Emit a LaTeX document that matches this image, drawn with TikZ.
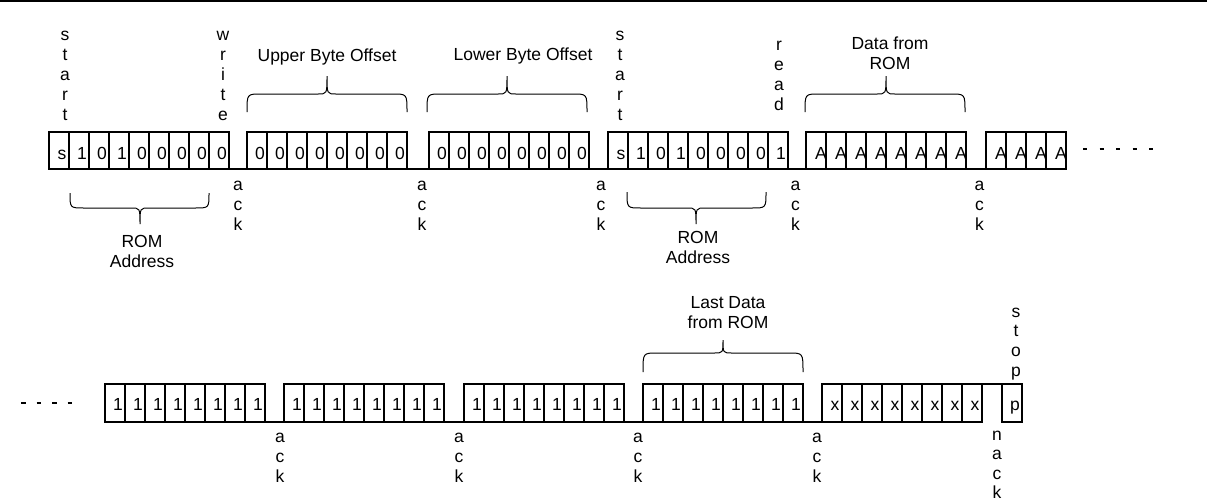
\documentclass[tikz,border=0pt]{standalone}
\usepackage{fontspec}
\setmainfont{Liberation Sans}
\newcommand{\cellgroup}[7][13]{% [text offset] name, x0, ytop, text baseline, height, list
  \foreach \ct [count=\ci from 0] in {#7} {
    \node[anchor=base] (#2t\ci) at ({#3+20*\ci+#1},#5) {\ct};
    \node[cell, minimum height=#6pt] (#2c\ci) at ({#3+20*\ci},#4) {};
  }}
\newcommand{\vlabel}[5]{% name, x, first baseline, step, letters
  \foreach \cl [count=\ci from 0] in {#5}
    \node[anchor=base] (#1\ci) at (#2,{#3+#4*\ci}) {\cl};}
\newcommand{\bracedraw}[6]{% x1, x2, xm, yEnd, yMid, yTip
  \draw[bracestyle] (#1,#4) .. controls (#1,#5) .. ({#1+14},#5) -- ({#3-9},#5)
    .. controls (#3,#5) .. (#3,#6) .. controls (#3,#5) .. ({#3+9},#5)
    -- ({#2-14},#5) .. controls (#2,#5) .. (#2,#4);}
\begin{document}
\begin{tikzpicture}[x=1pt,y=-1pt,line width=1.1pt,
  every node/.style={font=\fontsize{17.5}{20}\selectfont, inner sep=0pt, outer sep=0pt},
  cell/.style={draw, minimum width=20pt, anchor=north west},
  bracestyle/.style={line width=1pt},
  dots/.style={line width=2pt}]
\useasboundingbox (0,0) rectangle (1207,501);
\draw (0,1) -- (1207,1);
% ---------- row 1 ----------
\draw (49,169) -- (1066,169);
\cellgroup{a}{49}{132}{159}{37}{s,1,0,1,0,0,0,0,0}
\cellgroup{b}{247}{132}{159}{37}{0,0,0,0,0,0,0,0}
\cellgroup{c}{429}{132}{159}{37}{0,0,0,0,0,0,0,0}
\cellgroup{d}{608}{132}{159}{37}{s,1,0,1,0,0,0,0,1}
\cellgroup[15]{e}{806}{132}{159}{37}{A,A,A,A,A,A,A,A}
\cellgroup[15]{f}{986}{132}{159}{37}{A,A,A,A}
\draw[dots, dash pattern=on 4pt off 12.5pt] (1083,149) -- (1153,149);
\vlabel{st1}{65}{40}{20}{s,t,a,r,t}
\vlabel{wr}{223}{40}{20}{w,r,i,t,e}
\vlabel{st2}{620}{40}{20}{s,t,a,r,t}
\vlabel{rd}{779}{50}{20}{r,e,a,d}
\vlabel{ackA}{238}{190}{20}{a,c,k}
\vlabel{ackB}{422}{190}{20}{a,c,k}
\vlabel{ackC}{601}{190}{20}{a,c,k}
\vlabel{ackD}{795.5}{190}{20}{a,c,k}
\vlabel{ackE}{979.5}{190}{20}{a,c,k}
\node[anchor=base] (upper) at (327,61) {Upper Byte Offset};
\node[anchor=base] (lower) at (523,60) {Lower Byte Offset};
\node[anchor=base] (data1) at (890,49) {Data from};
\node[anchor=base] (data2) at (890,69) {ROM};
\node[anchor=base] (rom1a) at (142,247) {ROM};
\node[anchor=base] (rom1b) at (142,267) {Address};
\node[anchor=base] (rom2a) at (698,243) {ROM};
\node[anchor=base] (rom2b) at (698,263) {Address};
\bracedraw{247}{407}{327}{112}{94}{76}
\bracedraw{427}{587}{507}{112}{94}{76}
\bracedraw{805}{965}{886}{112}{94}{76}
\bracedraw{70}{209}{140}{193}{208}{224}
\bracedraw{627}{766}{696}{192}{208}{224}
% ---------- row 2 ----------
\draw (105,422) -- (982,422);
\draw (982,384) -- (1002,384);
\draw[dots, dash pattern=on 4.5pt off 11pt] (21,403) -- (73,403);
\cellgroup{g}{105}{384}{410}{38}{1,1,1,1,1,1,1,1}
\cellgroup{h}{284}{384}{410}{38}{1,1,1,1,1,1,1,1}
\cellgroup{i}{464}{384}{410}{38}{1,1,1,1,1,1,1,1}
\cellgroup{j}{643}{384}{410}{38}{1,1,1,1,1,1,1,1}
\cellgroup{k}{822}{384}{410}{38}{x,x,x,x,x,x,x,x}
\cellgroup{m}{1002}{384}{410}{38}{p}
\vlabel{ackF}{280}{442}{20}{a,c,k}
\vlabel{ackG}{459}{442}{20}{a,c,k}
\vlabel{ackH}{638}{442}{20}{a,c,k}
\vlabel{ackI}{817}{442}{20}{a,c,k}
\vlabel{nack}{997}{440}{19.5}{n,a,c,k}
\vlabel{stop}{1016}{317}{19.7}{s,t,o,p}
\node[anchor=base] (last1) at (728,308) {Last Data};
\node[anchor=base] (last2) at (728,328) {from ROM};
\bracedraw{643}{803}{723}{372}{353}{340}
\end{tikzpicture}
\end{document}
